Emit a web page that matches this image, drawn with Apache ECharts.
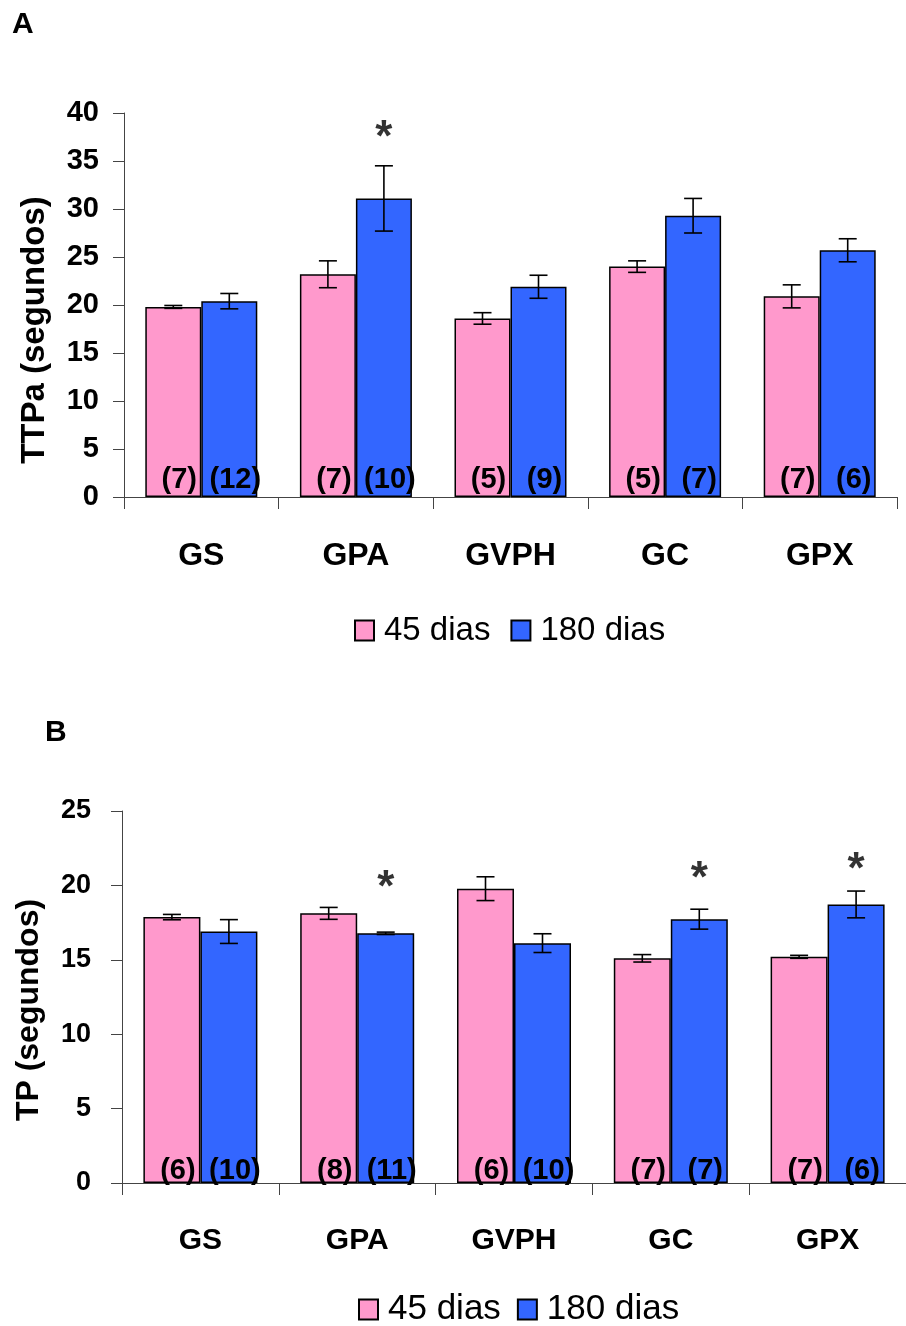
<!DOCTYPE html>
<html>
<head>
<meta charset="utf-8">
<script src="https://cdn.jsdelivr.net/npm/echarts@6/dist/echarts.min.js"></script>
<style>
    html, body { margin: 0; padding: 0; background: #fff; }
    #chart { width: 906px; height: 1326px; }
</style>
</head>
<body>
<div id="chart"></div>
<script>
// dados
var categories = ['GS', 'GPA', 'GVPH', 'GC', 'GPX'];
var seriesNames = ['45 dias', '180 dias'];

// painel A - TTPa
var ttpa45 = [19.8, 23.2, 18.6, 24.0, 20.9];
var ttpa180 = [20.4, 31.1, 21.9, 29.3, 25.7];
var ttpaErr45 = [0.15, 1.4, 0.6, 0.6, 1.2];
var ttpaErr180 = [0.8, 3.4, 1.2, 1.8, 1.2];
var ttpaN45 = ['(7)', '(7)', '(5)', '(5)', '(7)'];
var ttpaN180 = ['(12)', '(10)', '(9)', '(7)', '(6)'];
var ttpaStars = [null, 37.3, null, null, null];

// painel B - TP
var tp45 = [17.87, 18.12, 19.78, 15.1, 15.2];
var tp180 = [16.9, 16.78, 16.12, 17.73, 18.72];
var tpErr45 = [0.18, 0.4, 0.8, 0.25, 0.1];
var tpErr180 = [0.8, 0.08, 0.63, 0.67, 0.9];
var tpN45 = ['(6)', '(8)', '(6)', '(7)', '(7)'];
var tpN180 = ['(10)', '(11)', '(10)', '(7)', '(6)'];
var tpStars = [null, 19.8, null, 20.35, 20.95];

var FONT = 'Liberation Sans, Arial, sans-serif';
var PINK = '#FF99CC';
var BLUE = '#3366FF';
var AXIS = '#444';

var myChart = echarts.init(document.getElementById('chart'));

// barras
function barSeries(name, color, values, nLabels, idx, barW) {
    return {
        name: name,
        type: 'bar',
        xAxisIndex: idx,
        yAxisIndex: idx,
        barWidth: barW,
        barGap: '0%',
        data: values,
        itemStyle: { color: color, borderColor: '#000', borderWidth: 1.5 },
        label: {
            show: true,
            position: 'insideBottom',
            distance: idx === 0 ? 3 : -2,
            offset: [6, 0],
            formatter: function (p) { return nLabels[p.dataIndex]; },
            color: '#000',
            fontFamily: FONT,
            fontWeight: 'bold',
            fontSize: 29
        },
        emphasis: { disabled: true },
        z: 2
    };
}

// barras de erro
function errSeries(values, errs, side, idx, barW) {
    return {
        type: 'custom',
        xAxisIndex: idx,
        yAxisIndex: idx,
        data: values.map(function (v, i) { return [i, v, errs[i]]; }),
        renderItem: function (params, api) {
            var i = api.value(0), v = api.value(1), e = api.value(2);
            var top = api.coord([i, v + e]);
            var bot = api.coord([i, v - e]);
            var x = top[0] + side * barW / 2;
            var cap = 9;
            var style = { stroke: '#000', lineWidth: 1.6 };
            return {
                type: 'group',
                children: [
                    { type: 'line', shape: { x1: x, y1: top[1], x2: x, y2: bot[1] }, style: style },
                    { type: 'line', shape: { x1: x - cap, y1: top[1], x2: x + cap, y2: top[1] }, style: style },
                    { type: 'line', shape: { x1: x - cap, y1: bot[1], x2: x + cap, y2: bot[1] }, style: style }
                ]
            };
        },
        z: 5,
        silent: true
    };
}

// asteriscos
function starSeries(values, idx, barW) {
    return {
        type: 'scatter',
        xAxisIndex: idx,
        yAxisIndex: idx,
        symbolSize: 0,
        data: values,
        label: {
            show: true,
            position: 'inside',
            offset: [barW / 2, 0],
            formatter: '*',
            color: '#000',
            fontFamily: FONT,
            fontWeight: 'bold',
            fontSize: 44
        },
        z: 6,
        silent: true
    };
}

function xAxisCfg(idx, margin, size) {
    return {
        type: 'category',
        gridIndex: idx,
        data: categories,
        axisLine: { lineStyle: { color: AXIS, width: 1 } },
        axisTick: { show: true, length: 12, lineStyle: { color: AXIS } },
        axisLabel: {
            color: '#000', fontFamily: FONT, fontWeight: 'bold', fontSize: size,
            margin: margin
        }
    };
}

function yAxisCfg(idx, max, name, nameGap, shift, labSize, nameSize, margin) {
    return {
        type: 'value',
        gridIndex: idx,
        min: 0,
        max: max,
        interval: 5,
        name: name,
        nameLocation: 'middle',
        nameRotate: 90,
        nameGap: nameGap,
        nameTextStyle: {
            color: '#000', fontFamily: FONT, fontWeight: 'bold', fontSize: nameSize,
            padding: [0, shift, 0, 0]
        },
        axisLine: { show: true, lineStyle: { color: AXIS, width: 1 } },
        axisTick: { show: true, length: 11, lineStyle: { color: AXIS } },
        splitLine: { show: false },
        axisLabel: {
            color: '#000', fontFamily: FONT, fontWeight: 'bold', fontSize: labSize,
            margin: margin
        }
    };
}

var barWA = 56, barWB = 57;

var option = {
    animation: false,
    backgroundColor: '#fff',
    title: [
        { text: 'A', left: 12, top: 10, padding: 0, textStyle: { fontFamily: FONT, fontWeight: 'bold', fontSize: 30, color: '#000' } },
        { text: 'B', left: 45, top: 718, padding: 0, textStyle: { fontFamily: FONT, fontWeight: 'bold', fontSize: 30, color: '#000' } }
    ],
    legend: [
        {
            data: seriesNames, left: 354, top: 614, padding: 0,
            itemWidth: 19, itemHeight: 20, itemGap: 20, icon: 'rect',
            textStyle: { fontFamily: FONT, fontSize: 33, color: '#000', padding: [0, 0, 0, 5] }
        },
        {
            data: seriesNames, left: 358, top: 1292, padding: 0,
            itemWidth: 19, itemHeight: 20, itemGap: 16, icon: 'rect',
            textStyle: { fontFamily: FONT, fontSize: 35, color: '#000', padding: [0, 0, 0, 5] }
        }
    ],
    grid: [
        { left: 124, top: 113, width: 773, height: 384 },
        { left: 122, top: 811, width: 795, height: 372 }
    ],
    xAxis: [xAxisCfg(0, 43, 32), xAxisCfg(1, 43, 30)],
    yAxis: [
        yAxisCfg(0, 40, 'TTPa (segundos)', 73, 50, 29, 33, 25),
        yAxisCfg(1, 25, 'TP (segundos)', 77, 26, 27, 32, 31)
    ],
    series: [
        barSeries(seriesNames[0], PINK, ttpa45, ttpaN45, 0, barWA),
        barSeries(seriesNames[1], BLUE, ttpa180, ttpaN180, 0, barWA),
        errSeries(ttpa45, ttpaErr45, -1, 0, barWA),
        errSeries(ttpa180, ttpaErr180, 1, 0, barWA),
        starSeries(ttpaStars, 0, barWA),
        barSeries(seriesNames[0], PINK, tp45, tpN45, 1, barWB),
        barSeries(seriesNames[1], BLUE, tp180, tpN180, 1, barWB),
        errSeries(tp45, tpErr45, -1, 1, barWB),
        errSeries(tp180, tpErr180, 1, 1, barWB),
        starSeries(tpStars, 1, barWB)
    ]
};

myChart.setOption(option);
</script>
</body>
</html>
